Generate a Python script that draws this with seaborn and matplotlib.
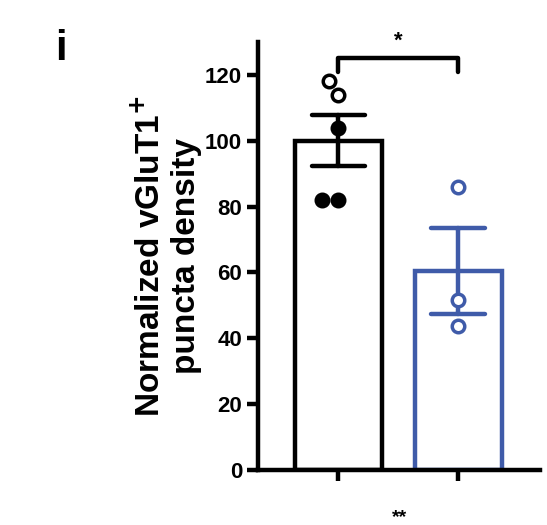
import numpy as np
import pandas as pd
import seaborn as sns
import matplotlib.pyplot as plt

groups = ['Ctrl', 'KO']
ctrl_vals = [118, 114, 104, 82, 82]
ko_vals = [86, 51.5, 43.6]
colors = ['black', '#3f5ba9']

df = pd.DataFrame({
    'group': [groups[0]] * len(ctrl_vals) + [groups[1]] * len(ko_vals),
    'value': ctrl_vals + ko_vals,
})

sns.set_style('ticks')
plt.rcParams['font.family'] = ['Liberation Sans', 'DejaVu Sans']
plt.rcParams['font.weight'] = 'bold'
for k in ['text.color', 'axes.labelcolor', 'xtick.color', 'ytick.color', 'axes.edgecolor']:
    plt.rcParams[k] = 'black'

fig = plt.figure(figsize=(5.47, 5.25), dpi=100)
ax = fig.add_axes([0.472, 0.105, 0.515, 0.815])
lw = 3.2

sns.barplot(data=df, x='group', y='value', order=groups, errorbar='se',
            capsize=0.45, width=0.72, fill=False, ax=ax,
            err_kws={'linewidth': lw}, linewidth=lw)
for patch, c in zip(ax.patches, colors):
    patch.set_edgecolor(c)
    patch.set_facecolor('white')
for line, c in zip(ax.lines, colors):
    line.set_color(c)
    line.set_zorder(4)

# open circles for the top ctrl points, filled for the rest
sub = pd.DataFrame({'group': groups[0], 'value': ctrl_vals[:2]})
sns.swarmplot(data=sub, x='group', y='value', order=groups, size=9,
              facecolor='white', edgecolor='black', linewidth=2.5, ax=ax, zorder=5)
sub = pd.DataFrame({'group': groups[0], 'value': ctrl_vals[2:]})
sns.swarmplot(data=sub, x='group', y='value', order=groups, size=9,
              color='black', edgecolor='black', linewidth=2.5, ax=ax, zorder=5)
sub = pd.DataFrame({'group': groups[1], 'value': ko_vals})
sns.swarmplot(data=sub, x='group', y='value', order=groups, size=9,
              facecolor='white', edgecolor=colors[1], linewidth=2.5, ax=ax, zorder=5)

ax.set_xlim(-0.67, 1.68)
ax.set_ylim(0, 130)
ax.set_yticks(range(0, 121, 20))
ax.set_xticks([0, 1])
ax.set_xticklabels(['', ''])
ax.set_xlabel('')
ax.set_ylabel('Normalized vGluT1$^{+}$\npuncta density', fontsize=24,
              fontweight='bold', labelpad=2)
ax.tick_params(width=lw, length=8, labelsize=16)
for t in ax.get_yticklabels():
    t.set_fontweight('bold')
for s in ['left', 'bottom']:
    ax.spines[s].set_linewidth(lw)
sns.despine(ax=ax)

ax.plot([0, 0, 1, 1], [121, 125, 125, 121], color='black', lw=lw, clip_on=False)
ax.text(0.5, 127, '*', ha='center', va='bottom', fontsize=16, fontweight='bold')

fig.text(0.1, 0.885, 'i', fontsize=30, fontweight='bold')
fig.text(0.73, 0.005, '**', fontsize=14, fontweight='bold', ha='center')
fig.savefig('out.png', dpi=100)
